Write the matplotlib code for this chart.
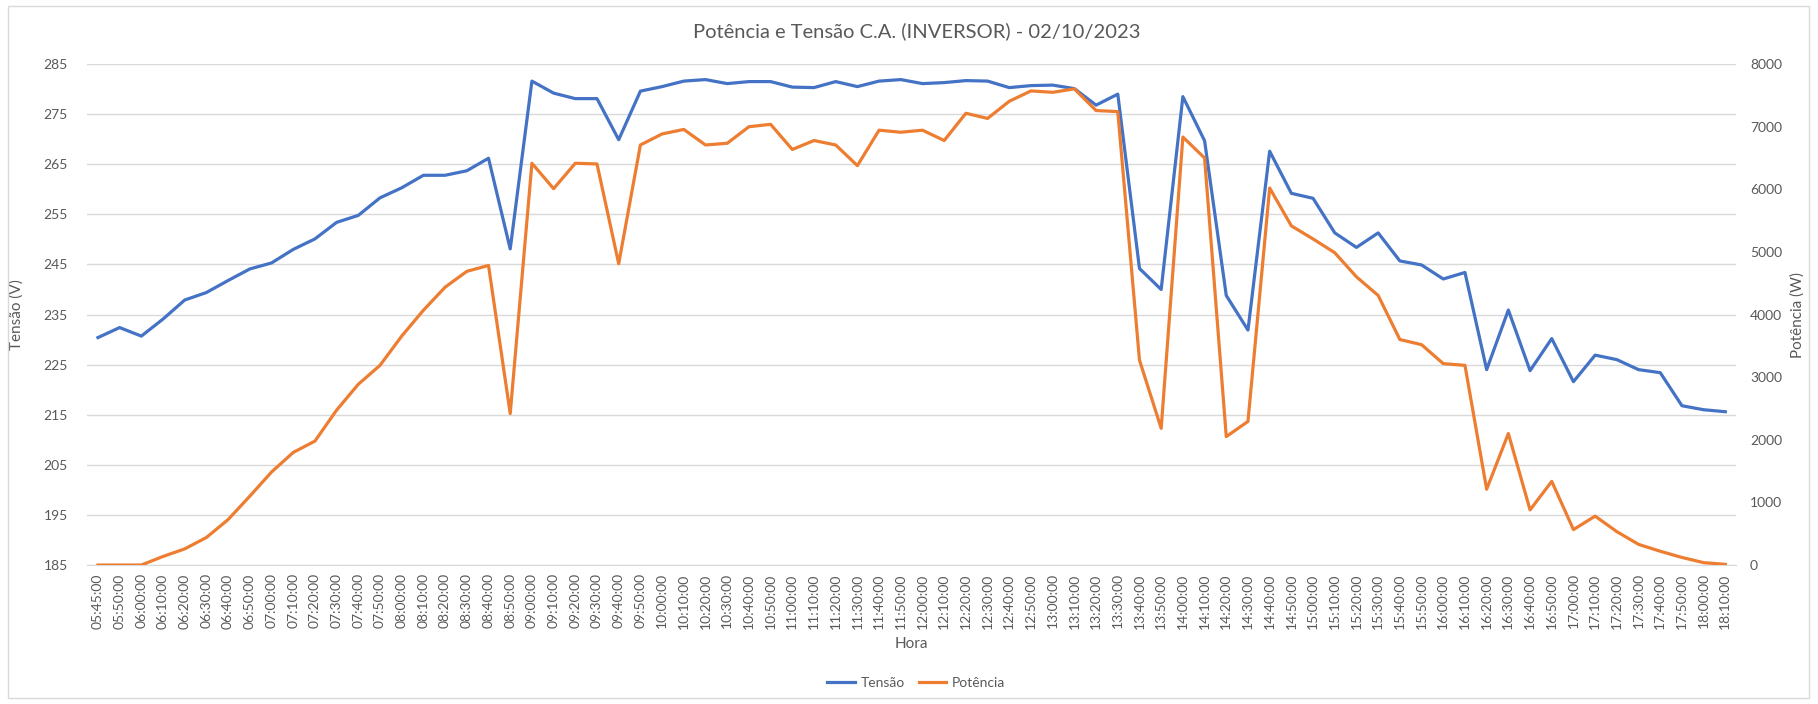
import matplotlib.pyplot as plt
from matplotlib.patches import Rectangle

plt.rcParams['font.family'] = ['Lato', 'DejaVu Sans']

# horários (eixo de categorias)
horas = ['05:45:00', '05:50:00']
for h in range(6, 19):
    for m in range(0, 60, 10):
        if h == 18 and m > 10:
            break
        horas.append(f'{h:02d}:{m:02d}:00')

tensao = [230.4, 232.4, 230.7, 234.1, 237.9, 239.4, 241.8, 244.1, 245.3, 248.0,
          250.1, 253.4, 254.8, 258.3, 260.3, 262.8, 262.8, 263.7, 266.2, 248.1,
          281.6, 279.2, 278.1, 278.1, 269.9, 279.6, 280.5, 281.6, 281.9, 281.1,
          281.5, 281.5, 280.4, 280.3, 281.5, 280.5, 281.6, 281.9, 281.1, 281.3,
          281.7, 281.6, 280.3, 280.7, 280.8, 280.1, 276.8, 279.0, 244.2, 240.0,
          278.5, 269.7, 238.8, 231.9, 267.6, 259.2, 258.2, 251.3, 248.4, 251.3,
          245.7, 244.9, 242.1, 243.4, 224.0, 235.9, 223.8, 230.2, 221.6, 226.9,
          226.0, 224.0, 223.4, 216.8, 216.0, 215.6]

potencia = [0, 0, 0, 137, 258, 440, 726, 1100, 1485, 1798,
            1979, 2474, 2887, 3189, 3656, 4069, 4437, 4690, 4784, 2419,
            6416, 6010, 6416, 6405, 4812, 6708, 6884, 6956, 6708, 6735,
            6999, 7038, 6636, 6779, 6708, 6378, 6944, 6911, 6944, 6779,
            7214, 7132, 7406, 7571, 7549, 7604, 7258, 7241, 3272, 2183,
            6835, 6500, 2051, 2293, 6021, 5416, 5207, 4987, 4602, 4305,
            3601, 3519, 3216, 3189, 1210, 2100, 880, 1336, 566, 781,
            533, 330, 220, 121, 38, 11]

azul = '#4472C4'
laranja = '#ED7D31'
cinza = '#595959'

fig = plt.figure(figsize=(18.18, 7.04), dpi=100)
fig.patches.append(Rectangle((8 / 1818, 6 / 704), 1801 / 1818, 692 / 704,
                             transform=fig.transFigure, fill=False,
                             edgecolor='#D9D9D9', linewidth=1))

ax = fig.add_axes([0.0479, 0.1974, 0.9071, 0.7116])
ax2 = ax.twinx()

x = list(range(len(horas)))
l1, = ax.plot(x, tensao, color=azul, linewidth=2.3, label='Tensão')
l2, = ax2.plot(x, potencia, color=laranja, linewidth=2.3, label='Potência')

ax.set_ylim(185, 285)
ax.set_yticks(range(185, 286, 10))
ax2.set_ylim(0, 8000)
ax2.set_yticks(range(0, 8001, 1000))
ax.set_xlim(-0.5, len(horas) - 0.5)
ax.set_xticks(x)
ax.set_xticklabels(horas, rotation=90)

ax.grid(axis='y', color='#D9D9D9', linewidth=1)
ax.set_axisbelow(True)
for a in (ax, ax2):
    for s in a.spines.values():
        s.set_visible(False)
    a.tick_params(length=0, labelsize=10, labelcolor=cinza)
ax.spines['bottom'].set_visible(True)
ax.spines['bottom'].set_color('#D9D9D9')
ax.tick_params(axis='y', pad=14)
ax2.tick_params(axis='y', pad=10)
ax.tick_params(axis='x', pad=6)

ax.set_ylabel('Tensão (V)', fontsize=11, color=cinza, labelpad=14)
ax2.set_ylabel('Potência (W)', fontsize=11, color=cinza, labelpad=6)
ax.set_xlabel('Hora', fontsize=11, color=cinza, labelpad=6)
fig.text(0.504, 0.955, 'Potência e Tensão C.A. (INVERSOR) - 02/10/2023',
         ha='center', va='center', fontsize=14.5, color=cinza)

fig.legend(handles=[l1, l2], loc='center', bbox_to_anchor=(0.504, 0.03),
           ncol=2, frameon=False, fontsize=10, handlelength=2.0,
           labelcolor=cinza, columnspacing=1.0, handletextpad=0.4)

fig.savefig('out.png', dpi=100)
